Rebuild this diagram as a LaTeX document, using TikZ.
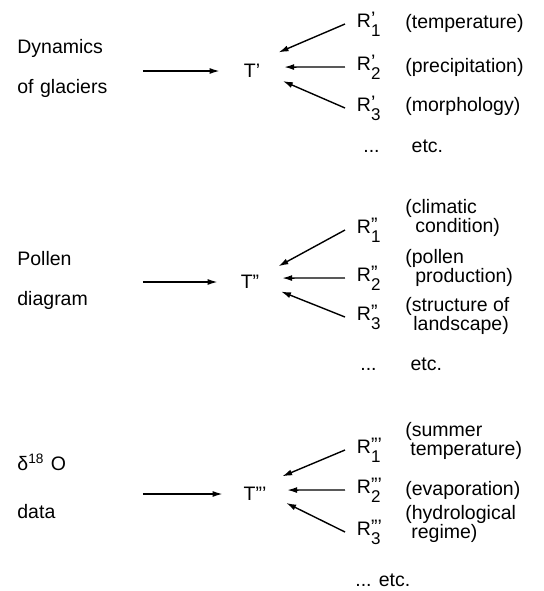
\documentclass[tikz,border=0pt]{standalone}
\usepackage{fontspec}
\setmainfont{Liberation Sans}
\usetikzlibrary{arrows.meta}

% R with its marks above and the index below
\newcommand{\rlab}[2]{R\rlap{\raisebox{1pt}{#1}}\raisebox{-4.5pt}{\fontsize{8.5}{9}\selectfont #2}}

\begin{document}
\begin{tikzpicture}[x=0.5pt, y=-0.5pt,
    every node/.style={font=\fontsize{9.75}{11}\selectfont},
    lbl/.style={anchor=west, inner sep=0pt, text width=62.5pt, align=left, font=\fontsize{9.75}{20}\selectfont},
    tnode/.style={circle, inner sep=0pt, minimum size=32pt},
    rnode/.style={anchor=west, inner sep=0pt, outer sep=6pt},
    note/.style={anchor=west, inner sep=0pt, align=left, font=\fontsize{9.75}{9.5}\selectfont},
    arr/.style={-{Latex[length=5pt,width=3pt]}, line width=0.7pt}]
    \useasboundingbox (0,0) rectangle (544,591);
    % glaciers
    \node[lbl] (dyn) at (17,68) {Dynamics\\of glaciers};
    \node[tnode] (t1) at (252,71) {T’};
    \node[rnode] (r11) at (345,24) {\rlab{’}{1}};
    \node[rnode] (r12) at (345,67) {\rlab{’}{2}};
    \node[rnode] (r13) at (345,108) {\rlab{’}{3}};
    \node[note] (n11) at (405,23) {(temperature)};
    \node[note] (n12) at (405,67) {(precipitation)};
    \node[note] (n13) at (405,106) {(morphology)};
    \node[note] (etc1) at (363,146) {...\hspace{16pt}etc.};
    \path (dyn.east |- t1) edge[arr] (t1);
    \path (r11.west) edge[arr] (t1.35);
    \path (r12.west) edge[arr] (t1.7);
    \path (r13.west) edge[arr] (t1.-18);
    % pollen
    \node[lbl] (pol) at (17,280) {Pollen\\diagram};
    \node[tnode] (t2) at (250,282) {T”};
    \node[rnode] (r21) at (345,230) {\rlab{”}{1}};
    \node[rnode] (r22) at (345,278) {\rlab{”}{2}};
    \node[rnode] (r23) at (345,317) {\rlab{”}{3}};
    \node[note] (n21) at (405,218) {(climatic\\\hspace*{5pt}condition)};
    \node[note] (n22) at (405,268) {(pollen\\\hspace*{5pt}production)};
    \node[note] (n23) at (405,316) {(structure of\\\hspace*{4pt}landscape)};
    \node[note] (etc2) at (360,364) {...\hspace{17pt}etc.};
    \path (pol.east |- t2) edge[arr] (t2);
    \path (r21.west) edge[arr] (t2.29);
    \path (r22.west) edge[arr] (t2.7);
    \path (r23.west) edge[arr] (t2.-17);
    % oxygen isotopes
    \node[lbl] (dat) at (17,486) {δ\textsuperscript{18} O\\[4pt]data};
    \node[tnode] (t3) at (255,494) {T”’};
    \node[rnode] (r31) at (345,450) {\rlab{”’}{1}};
    \node[rnode] (r32) at (345,490) {\rlab{”’}{2}};
    \node[rnode] (r33) at (345,532) {\rlab{”’}{3}};
    \node[note] (n31) at (405,441) {(summer\\\hspace*{2.5pt}temperature)};
    \node[note] (n32) at (405,490) {(evaporation)};
    \node[note] (n33) at (405,524) {(hydrological\\\hspace*{3pt}regime)};
    \node[note] (etc3) at (355,580) {... etc.};
    \path (dat.east |- t3) edge[arr] (t3);
    \path (r31.west) edge[arr] (t3.33);
    \path (r32.west) edge[arr] (t3.7);
    \path (r33.west) edge[arr] (t3.-16);
\end{tikzpicture}
\end{document}
